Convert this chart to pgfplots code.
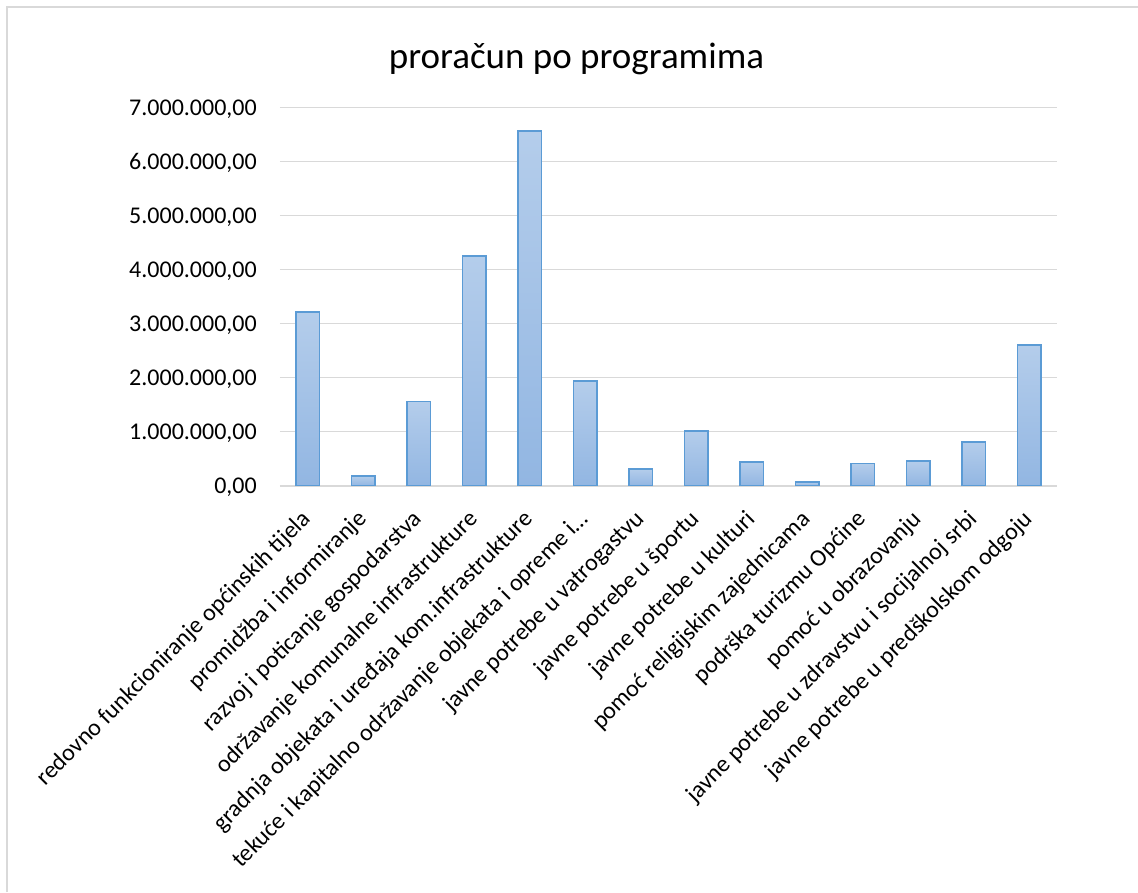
\documentclass[border=0pt]{standalone}
\usepackage{fontspec}
\setmainfont{Carlito}
\usepackage{pgfplots}
\pgfplotsset{compat=1.18}
\definecolor{gridc}{RGB}{217,217,217}
\definecolor{barline}{RGB}{91,155,213}
\definecolor{bartop}{RGB}{180,205,235}
\definecolor{barbot}{RGB}{146,182,226}
\begin{document}
\begin{tikzpicture}
\path[use as bounding box] (0,0) rectangle (1138pt,-892pt);
\draw[gridc, line width=2pt] (6.5pt,-892pt) -- (6.5pt,-6.5pt) -- (1138pt,-6.5pt);
\node[anchor=base, font=\fontsize{37}{44}\selectfont] at (576.5pt,-68pt) {proračun po programima};
\begin{axis}[
  at={(280pt,-485.7pt)}, anchor=south west,
  scale only axis, width=777pt, height=378.2pt,
  xmin=-0.5, xmax=13.5, ymin=0, ymax=7000000,
  ybar, bar width=23.5pt, bar shift=0pt,
  mybar/.style={draw=barline, line width=1.8pt, top color=bartop, bottom color=barbot},
  ytick={0,1000000,2000000,3000000,4000000,5000000,6000000,7000000},
  yticklabels={{0,00},{1.000.000,00},{2.000.000,00},{3.000.000,00},{4.000.000,00},{5.000.000,00},{6.000.000,00},{7.000.000,00}},
  scaled y ticks=false,
  xtick={0,1,2,3,4,5,6,7,8,9,10,11,12,13},
  xticklabels={
    redovno funkcioniranje općinskih tijela,
    promidžba i informiranje,
    razvoj i poticanje gospodarstva,
    održavanje komunalne infrastrukture,
    gradnja objekata i uređaja kom.infrastrukture,
    tekuće i kapitalno održavanje objekata i opreme i…,
    javne potrebe u vatrogastvu,
    javne potrebe u športu,
    javne potrebe u kulturi,
    pomoć religijskim zajednicama,
    podrška turizmu Općine,
    pomoć u obrazovanju,
    javne potrebe u zdravstvu i socijalnoj srbi,
    javne potrebe u predškolskom odgoju},
  axis line style={draw=none},
  major tick length=0pt,
  ymajorgrids, grid style={gridc, line width=1.6pt},
  ticklabel style={font=\fontsize{24}{29}\selectfont, text=black},
  yticklabel style={anchor=east, inner sep=0pt, text depth=0pt},
  yticklabel shift=23pt,
  xticklabel style={rotate=45, anchor=east, inner sep=0pt},
  xticklabel shift=30pt,
]
\addplot[mybar] coordinates {(0,3210000)};
\addplot[mybar] coordinates {(1,180000)};
\addplot[mybar] coordinates {(2,1560000)};
\addplot[mybar] coordinates {(3,4250000)};
\addplot[mybar] coordinates {(4,6570000)};
\addplot[mybar] coordinates {(5,1940000)};
\addplot[mybar] coordinates {(6,310000)};
\addplot[mybar] coordinates {(7,1010000)};
\addplot[mybar] coordinates {(8,440000)};
\addplot[mybar] coordinates {(9,75000)};
\addplot[mybar] coordinates {(10,410000)};
\addplot[mybar] coordinates {(11,460000)};
\addplot[mybar] coordinates {(12,810000)};
\addplot[mybar] coordinates {(13,2600000)};
\end{axis}
\end{tikzpicture}
\end{document}
